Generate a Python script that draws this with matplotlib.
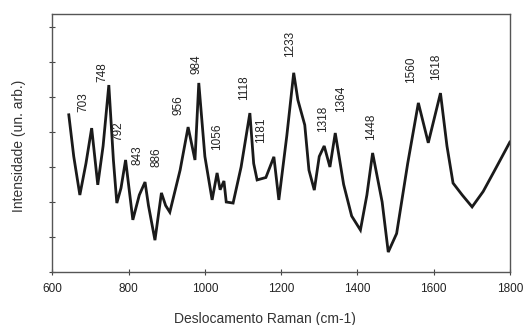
import matplotlib
matplotlib.use("Agg")
import matplotlib.pyplot as plt

# Raman spectrum (wavenumber in cm-1, intensity in arbitrary units)
wavenumber = [643, 656, 672, 688, 703, 719, 733, 748, 760, 769, 780, 792, 802, 811,
              828, 843, 852, 869, 886, 897, 908, 935, 956, 974, 984, 1000, 1019,
              1032, 1040, 1050, 1056, 1074, 1095, 1118, 1128, 1137, 1160, 1181, 1194,
              1215, 1233, 1244, 1262, 1273, 1287, 1300, 1313, 1328, 1342, 1364,
              1385, 1408, 1425, 1440, 1465, 1481, 1503, 1532, 1560, 1586, 1618,
              1635, 1651, 1675, 1701, 1730, 1760, 1800]
intensity = [4.49, 3.3, 2.2, 3.1, 4.11, 2.49, 3.6, 5.34, 3.2, 1.97, 2.4, 3.2, 2.3, 1.49,
             2.2, 2.57, 1.9, 0.91, 2.26, 1.9, 1.71, 2.91, 4.14, 3.2, 5.4, 3.3, 2.06,
             2.83, 2.35, 2.6, 2.0, 1.97, 3.0, 4.54, 3.1, 2.63, 2.7, 3.29, 2.06,
             3.9, 5.69, 4.91, 4.2, 2.91, 2.34, 3.3, 3.6, 3.0, 3.97, 2.5,
             1.6, 1.2, 2.2, 3.4, 2.0, 0.57, 1.1, 3.1, 4.83, 3.69, 5.11,
             3.6, 2.54, 2.2, 1.86, 2.3, 2.9, 3.71]

# Peak labels and their anchor positions (wavenumber, intensity of label bottom)
peak_labels = ["703", "748", "792", "843", "886", "956", "984", "1056", "1118",
               "1181", "1233", "1318", "1364", "1448", "1560", "1618"]
label_x = [681, 731, 774, 822, 873, 931, 978, 1033, 1102,
           1148, 1224, 1309, 1356, 1437, 1541, 1606]
label_y = [4.57, 5.43, 3.74, 3.06, 3.0, 4.49, 5.66, 3.49, 4.91,
           3.69, 6.14, 4.0, 4.57, 3.77, 5.4, 5.49]

x_ticks = [600, 800, 1000, 1200, 1400, 1600, 1800]
y_ticks = [0, 1, 2, 3, 4, 5, 6, 7]

plt.rcParams['font.family'] = ['Liberation Sans', 'DejaVu Sans']

fig = plt.figure(figsize=(5.24, 3.25), dpi=100)
ax = fig.add_axes([0.1, 0.163, 0.873, 0.794])

ax.plot(wavenumber, intensity, color='#1a1a1a', lw=2.0, solid_joinstyle='miter')

for lab, lx, ly in zip(peak_labels, label_x, label_y):
    ax.text(lx, ly, lab, rotation=90, ha='center', va='bottom', fontsize=8.5,
            color='#222222')

ax.set_xlim(600, 1800)
ax.set_ylim(0, 7.37)
ax.set_xticks(x_ticks)
ax.set_xticklabels([str(t) for t in x_ticks], fontsize=8.5, color='#222222')
ax.set_yticks(y_ticks)
ax.set_yticklabels([])
ax.tick_params(direction='inout', length=4, width=0.8, colors='#444444')
ax.tick_params(axis='x', labelcolor='#222222', pad=6)

for s in ax.spines.values():
    s.set_color('#555555')
    s.set_linewidth(1.0)

ax.set_xlabel('Deslocamento Raman (cm-1)', fontsize=10, color='#333333')
ax.xaxis.set_label_coords(0.465, -0.155)
ax.set_ylabel('Intensidade (un. arb.)', fontsize=10, color='#333333')
ax.yaxis.set_label_coords(-0.058, 0.49)

fig.savefig('out.png', dpi=100)
